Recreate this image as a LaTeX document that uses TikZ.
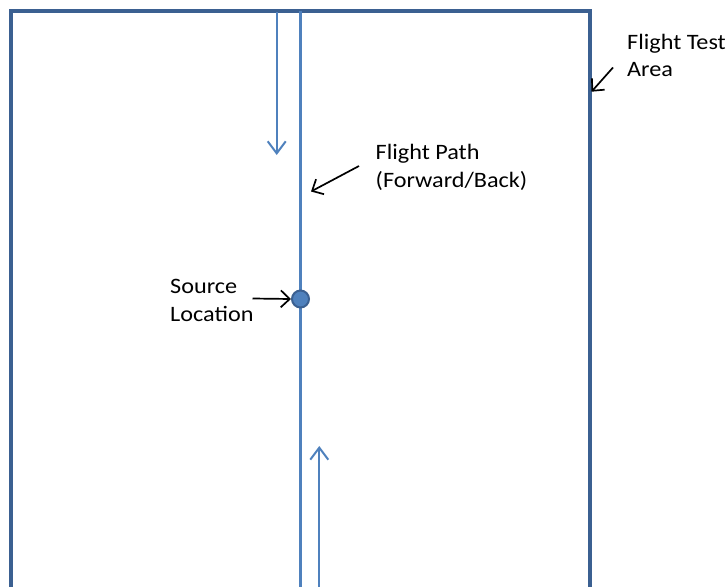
\documentclass[tikz,border=0pt]{standalone}
\usepackage{fontspec}
\setmainfont{Carlito}[FakeStretch=1.1]
\usetikzlibrary{arrows.meta}
\definecolor{areablue}{HTML}{3B6091}
\definecolor{pathblue}{HTML}{4F81BD}
\tikzset{
  lbl/.style={anchor=base west, inner sep=0pt, font=\fontsize{22}{28}\selectfont, text=black},
  pointer/.style={draw=black, line width=1.7pt, -{Straight Barb[length=9pt,width=17pt,line width=1.7pt]}},
  dirarrow/.style={draw=pathblue, line width=2pt, -{Straight Barb[length=12pt,width=18pt,line width=2pt]}},
}
\begin{document}
\begin{tikzpicture}[x=1pt,y=-1pt]
\useasboundingbox (0,0) rectangle (727,586);
% flight test area (open at bottom)
\draw[areablue, line width=4pt] (10.5,600) -- (10.5,10.7) -- (589.5,10.7) -- (589.5,600);
% flight path
\coordinate (ptop) at (300.5,10.7);
\coordinate (pbot) at (300.5,600);
\draw[pathblue, line width=3pt] (ptop) -- (pbot);
% direction arrows
\coordinate (dstart) at (276.7,12);
\coordinate (dend) at (276.7,155);
\draw[dirarrow] (dstart) -- (dend);
\coordinate (ustart) at (319.3,600);
\coordinate (uend) at (319.3,446);
\draw[dirarrow] (ustart) -- (uend);
% source
\node (src) [circle, fill=pathblue, draw=areablue, line width=2pt, minimum size=17pt, inner sep=0pt] at (300.5,299) {};
% labels
\node[lbl] (srcA) at (170,293.3) {Source};
\node[lbl] (srcB) at (170,321.7) {Location};
\coordinate (srcArrS) at (252.5,298.5);
\draw[pointer] (srcArrS) -- (src.west);
\node[lbl] (fpA) at (375.5,159.5) {Flight Path};
\node[lbl] (fpB) at (375.5,187.7) {(Forward/Back)};
\coordinate (fpS) at (359,166);
\coordinate (fpE) at (311,191.5);
\draw[pointer] (fpS) -- (fpE);
\node[lbl] (ftA) at (627,49.3) {Flight Test};
\node[lbl] (ftB) at (627,76.7) {Area};
\coordinate (ftS) at (613,67.5);
\coordinate (ftE) at (591.5,91.7);
\draw[pointer] (ftS) -- (ftE);
\end{tikzpicture}
\end{document}
